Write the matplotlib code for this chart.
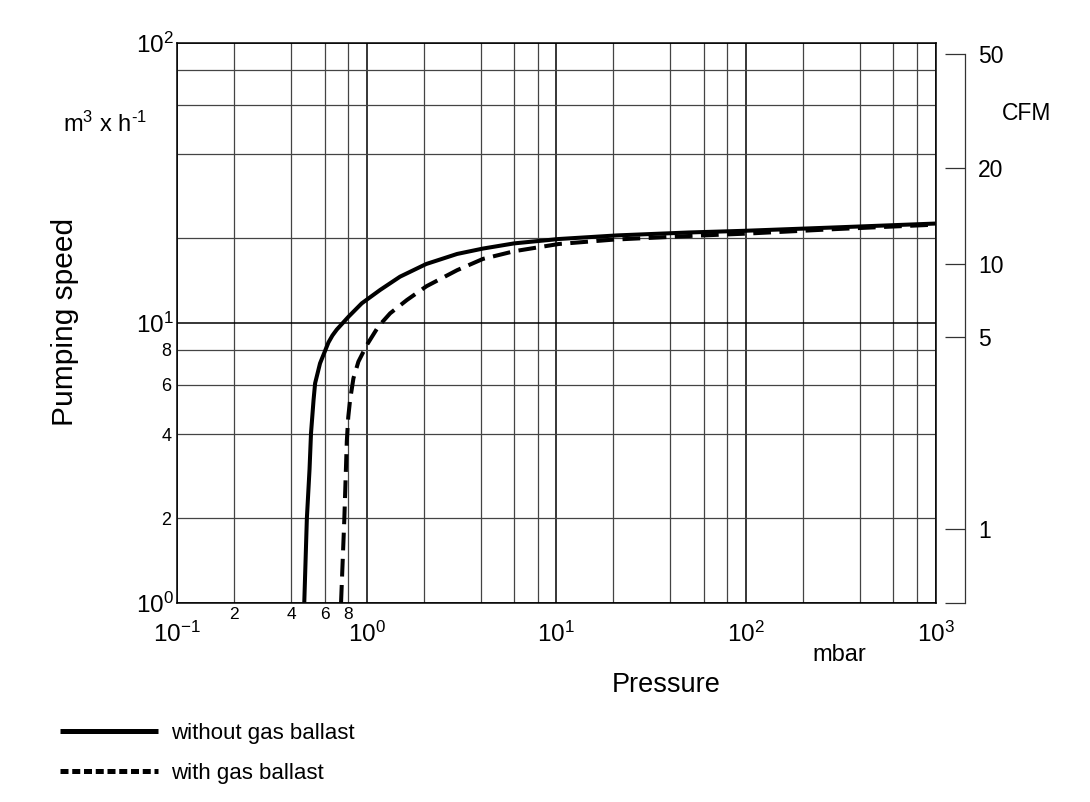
import matplotlib
matplotlib.use("Agg")
import matplotlib.pyplot as plt
from matplotlib.lines import Line2D

plt.rcParams['font.family'] = ['Liberation Sans', 'DejaVu Sans']
plt.rcParams['mathtext.fontset'] = 'custom'
plt.rcParams['mathtext.rm'] = 'Liberation Sans'
plt.rcParams['mathtext.it'] = 'Liberation Sans'
plt.rcParams['mathtext.bf'] = 'Liberation Sans'

# ---------------- data ----------------
p_without = [0.469, 0.484, 0.500, 0.509, 0.525, 0.535, 0.568, 0.600, 0.629, 0.660, 0.696, 0.802,
             0.943, 1.178, 1.5, 2.06, 3.0, 4.11, 6.0, 10.3, 20.9, 50, 100, 300, 1000]
s_without = [1.0, 2.0, 3.0, 4.03, 5.3, 6.08, 7.16, 7.85, 8.5, 9.0, 9.45, 10.5,
             11.73, 13.09, 14.6, 16.2, 17.6, 18.4, 19.2, 19.9, 20.5, 21.0, 21.3, 21.9, 22.6]

p_with = [0.733, 0.763, 0.786, 0.800, 0.818, 0.852, 0.905, 1.002, 1.154, 1.33,
          1.63, 2.07, 3.0, 4.11, 6.0, 10.3, 20, 50, 100, 300, 1000]
s_with = [1.0, 2.0, 3.76, 4.6, 5.3, 6.33, 7.26, 8.32, 9.7, 10.8,
          12.05, 13.5, 15.4, 16.9, 18.0, 19.1, 19.8, 20.4, 20.8, 21.6, 22.4]

x_major_ticks = [0.1, 1, 10, 100, 1000]
x_major_labels = [r'$\mathregular{10^{-1}}$', r'$\mathregular{10^{0}}$', r'$\mathregular{10^{1}}$',
                  r'$\mathregular{10^{2}}$', r'$\mathregular{10^{3}}$']
y_major_ticks = [1, 10, 100]
y_major_labels = [r'$\mathregular{10^{0}}$', r'$\mathregular{10^{1}}$', r'$\mathregular{10^{2}}$']
minor_mult = [2, 4, 6, 8]
minor_labels = ['2', '4', '6', '8']

# CFM scale: tick labels and where they sit on the m3/h scale
cfm_labels = ['50', '20', '10', '5', '1']
cfm_at_m3h = [90.9, 35.7, 16.2, 8.91, 1.83]

legend_labels = ['without gas ballast', 'with gas ballast']

# ---------------- figure ----------------
W, H = 1090, 802
fig = plt.figure(figsize=(W / 100, H / 100), dpi=100)

ax_l, ax_r = 177, 935.5
ax_t, ax_b = 42.7, 602.7
ax = fig.add_axes([ax_l / W, (H - ax_b) / H, (ax_r - ax_l) / W, (ax_b - ax_t) / H])
ax.set_xscale('log')
ax.set_yscale('log')
ax.set_xlim(0.1, 1000)
ax.set_ylim(1, 100)

ax.plot(p_without, s_without, color='black', lw=2.9, solid_capstyle='butt',
        solid_joinstyle='round', zorder=5)
ax.plot(p_with, s_with, color='black', lw=2.9, linestyle=(0, (4.4, 2.1)),
        dash_capstyle='butt', dash_joinstyle='round', zorder=5)

# ticks
ax.set_xticks(x_major_ticks)
ax.set_xticklabels(x_major_labels, fontsize=17.5)
xminor = [m * d for d in [0.1, 1, 10, 100] for m in minor_mult]
ax.set_xticks(xminor, minor=True)
ax.set_xticklabels(minor_labels + [''] * (len(xminor) - 4), minor=True, fontsize=12.5)

ax.set_yticks(y_major_ticks)
ax.set_yticklabels(y_major_labels, fontsize=17.5)
yminor = [m * d for d in [1, 10] for m in minor_mult]
ax.set_yticks(yminor, minor=True)
ax.set_yticklabels(minor_labels + [''] * 4, minor=True, fontsize=13)

ax.tick_params(axis='both', which='both', length=0)
ax.tick_params(axis='x', which='major', pad=14)
ax.tick_params(axis='x', which='minor', pad=3)
ax.tick_params(axis='y', which='major', pad=2)
ax.tick_params(axis='y', which='minor', pad=4)

ax.grid(which='major', color='black', lw=1.1)
ax.grid(which='minor', color='#444444', lw=0.9)
for s in ax.spines.values():
    s.set_linewidth(1.1)
    s.set_color('black')

# CFM axis on the right
ax2 = fig.add_axes([945 / W, (H - ax_b) / H, 20 / W, (ax_b - ax_t) / H])
ax2.set_yscale('log')
ax2.set_ylim(1, 100)
ax2.patch.set_visible(False)
for k in ['left', 'top', 'bottom']:
    ax2.spines[k].set_visible(False)
ax2.spines['right'].set_bounds(1, cfm_at_m3h[0])
ax2.spines['right'].set_color('#333333')
ax2.spines['right'].set_linewidth(0.9)
ax2.set_xticks([])
ax2.set_yticks(cfm_at_m3h + [1])
ax2.set_yticklabels(cfm_labels + [''], fontsize=16.5)
ax2.set_yticks([], minor=True)
ax2.tick_params(axis='y', which='major', left=False, right=True, labelleft=False,
                labelright=True, direction='in', length=14.4, width=0.9,
                color='#333333', pad=9.5)

# texts
fig.text(105 / W, 1 - 124 / H, r'm$^{3}$ x h$^{\text{-1}}$', fontsize=17, ha='center', va='center')
fig.text(1027 / W, 1 - 113 / H, 'CFM', fontsize=16.5, ha='center', va='center')
fig.text(65 / W, 1 - 322 / H, 'Pumping speed', fontsize=21.5, rotation=90,
         ha='center', va='center')
fig.text(666 / W, 1 - 685 / H, 'Pressure', fontsize=19.5, ha='center', va='center')
fig.text(839 / W, 1 - 655 / H, 'mbar', fontsize=17, ha='center', va='center')

# legend
h1 = Line2D([], [], color='black', lw=3.6, solid_capstyle='butt')
h2 = Line2D([], [], color='black', lw=3.6, linestyle=(0, (1.6, 0.75)), dash_capstyle='butt')
leg = fig.legend([h1, h2], legend_labels, loc='upper left',
                 bbox_to_anchor=(60 / W, 1 - 723 / H), frameon=False,
                 fontsize=16, handlelength=4.4, handletextpad=0.6,
                 labelspacing=0.85, borderpad=0, borderaxespad=0)

fig.savefig('out.png', dpi=100)
